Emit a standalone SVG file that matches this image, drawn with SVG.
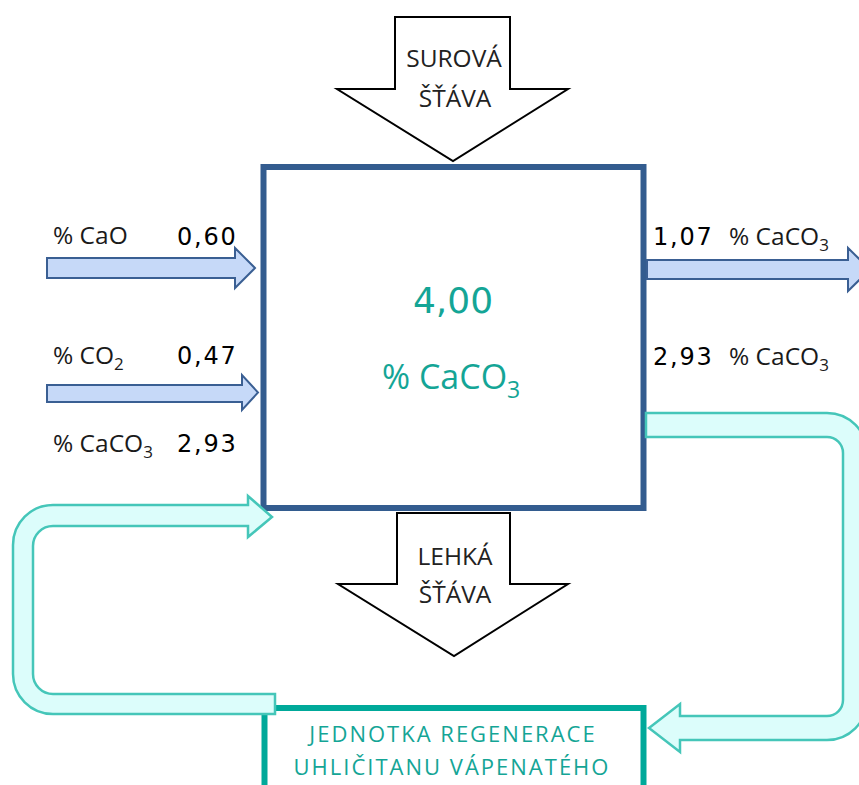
<svg xmlns="http://www.w3.org/2000/svg" width="859" height="785" viewBox="0 0 859 785">
<style>
.blk{fill:#fff;stroke:#000;stroke-width:2;stroke-linejoin:miter}
.blue{fill:#C6D9F8;stroke:#3A5F93;stroke-width:2}
.teal{fill:#DCFDFB;stroke:#45C6B9;stroke-width:2.5}
.lbl{font-family:"Open Sans","Liberation Sans",sans-serif;font-size:24.5px;fill:#1a1a1a}
.num{font-family:"DejaVu Sans","Liberation Sans",sans-serif;font-size:24px;fill:#000;letter-spacing:1.8px}
.hd{font-family:"Open Sans","Liberation Sans",sans-serif;font-size:24.5px;fill:#222;text-anchor:middle}
.ctr{fill:#14A596}
.unit{font-family:"Open Sans","Liberation Sans",sans-serif;font-weight:500;font-size:22px;fill:#14A596;text-anchor:middle;letter-spacing:2px}
</style>
<rect width="859" height="785" fill="#fff"/>
<g id="box-main">
<rect x="263.5" y="167" width="380" height="341" fill="#fff" stroke="#335C8F" stroke-width="6"/>
<text x="453" y="313" class="ctr" font-family="DejaVu Sans, sans-serif" font-size="36" text-anchor="middle">4,00</text>
<text x="382" y="389" class="ctr" font-family="Open Sans, sans-serif" font-size="34">% CaCO<tspan font-size="23" dy="9">3</tspan></text>
</g>
<g id="box-regen">
<rect x="264.5" y="708" width="379" height="100" fill="#fff" stroke="#00A99A" stroke-width="6"/>
<text x="453" y="742" class="unit">JEDNOTKA REGENERACE</text>
<text x="452" y="775" class="unit">UHLIČITANU VÁPENATÉHO</text>
</g>
<g id="in-surova">
<path class="blk" d="M395,17 L510,17 L510,89 L568,89 L453,161 L337,89 L395,89 Z"/>
<text x="454" y="67" class="hd">SUROVÁ</text>
<text x="455" y="107" class="hd">ŠŤÁVA</text>
</g>
<g id="out-lehka">
<path class="blk" d="M397,513 L510,513 L510,584 L568,584 L454,656 L338,584 L397,584 Z"/>
<text x="455" y="565" class="hd">LEHKÁ</text>
<text x="455" y="603" class="hd">ŠŤÁVA</text>
</g>
<g id="connectors">
<path class="blue" d="M47,258 L235,258 L235,248 L255,268 L235,288 L235,278 L47,278 Z"/>
<path class="blue" d="M47,385 L242,385 L242,375 L258,392.5 L242,410 L242,402 L47,402 Z"/>
<path class="blue" d="M647,260 L848,260 L848,248 L870,269.5 L848,291 L848,279 L647,279 Z"/>
<path class="teal" d="M248,505 L248,496 L272,517 L248,537 L248,526 L53,526 A20,20 0 0 0 33,546 L33,674 A20,20 0 0 0 53,694 L275,694 L275,714 L53,714 A40,40 0 0 1 13,674 L13,545 A40,40 0 0 1 53,505 Z"/>
<path class="teal" d="M646,413 L827,413 A40,40 0 0 1 867,453 L867,700 A40,40 0 0 1 827,740 L680,740 L680,752 L649,728 L680,704 L680,716 L827,716 A16,16 0 0 0 843,700 L843,453 A16,16 0 0 0 827,437 L646,437 Z"/>
</g>
<g id="labels">
<text x="53" y="244" class="lbl">% CaO</text>
<text x="177" y="245" class="num">0,60</text>
<text x="53" y="364" class="lbl">% CO<tspan font-size="17" dy="6">2</tspan></text>
<text x="177" y="364" class="num">0,47</text>
<text x="53" y="452" class="lbl">% CaCO<tspan font-size="17" dy="6">3</tspan></text>
<text x="177" y="452" class="num">2,93</text>
<text x="653" y="245" class="num">1,07</text>
<text x="729" y="245" class="lbl">% CaCO<tspan font-size="17" dy="6">3</tspan></text>
<text x="653" y="365" class="num">2,93</text>
<text x="729" y="365" class="lbl">% CaCO<tspan font-size="17" dy="6">3</tspan></text>
</g>
</svg>
